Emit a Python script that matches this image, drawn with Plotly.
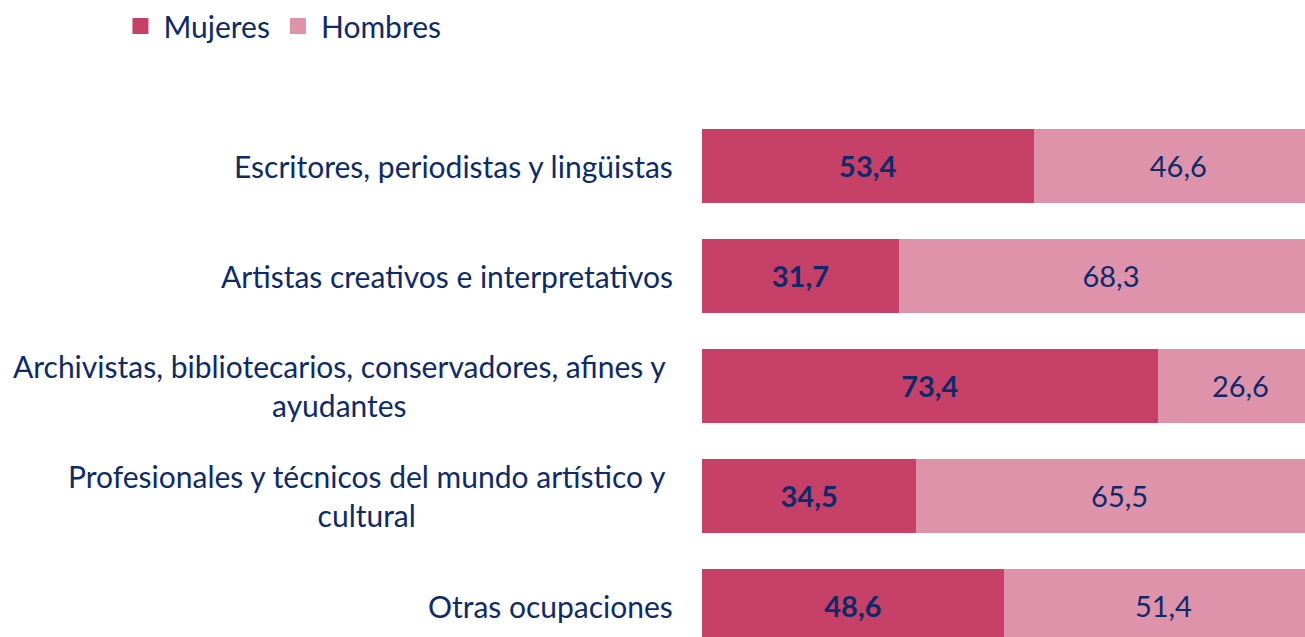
import plotly.graph_objects as go

categories = [
    "Escritores, periodistas y lingüistas",
    "Artistas creativos e interpretativos",
    "Archivistas, bibliotecarios, conservadores, afines y<br>ayudantes",
    "Profesionales y técnicos del mundo artístico y<br>cultural",
    "Otras ocupaciones",
]
series_names = ["Mujeres", "Hombres"]
mujeres = [53.4, 31.7, 73.4, 34.5, 48.6]
hombres = [46.6, 68.3, 26.6, 65.5, 51.4]

C_M = "#C64068"
C_H = "#DF93AA"
TXT = "#0D2A6B"
FONT = "Lato"
FS = 29
FL = 30

fig = go.Figure()
fig.add_trace(go.Bar(
    y=categories, x=mujeres, orientation="h", name=series_names[0],
    marker=dict(color=C_M, line=dict(width=0)), showlegend=False,
    texttemplate="<b>%{x:.1f}</b>", textposition="inside", insidetextanchor="middle",
    textfont=dict(color=TXT, size=FS, family=FONT),
))
fig.add_trace(go.Bar(
    y=categories, x=hombres, orientation="h", name=series_names[1],
    marker=dict(color=C_H, line=dict(width=0)), showlegend=False,
    texttemplate="%{x:.1f}", textposition="inside", insidetextanchor="middle",
    textfont=dict(color=TXT, size=FS, family=FONT),
))
# legend entries with larger square swatches
for nm, col in zip(series_names, [C_M, C_H]):
    fig.add_trace(go.Scatter(
        x=[None], y=[None], mode="markers", name=nm,
        marker=dict(symbol="square", size=19, color=col), showlegend=True,
    ))

for i, c in enumerate(categories):
    fig.add_annotation(
        xref="paper", yref="y", x=0, y=c, text=c, showarrow=False,
        xanchor="right", yanchor="middle", align="center",
        xshift=-27 if "<br>" not in c else -34,
        font=dict(color=TXT, size=FL, family=FONT),
    )

fig.update_layout(
    width=1305, height=637,
    barmode="stack", bargap=0.327,
    separators=",.",
    margin=dict(l=702, r=0, t=111, b=0),
    plot_bgcolor="white", paper_bgcolor="white",
    font=dict(family=FONT, color=TXT, size=FS),
    showlegend=True,
    legend=dict(orientation="h", xref="container", yref="container",
                x=0.09, y=1.0, xanchor="left", yanchor="top",
                font=dict(size=FL, color=TXT, family=FONT),
                itemsizing="trace", itemwidth=36,
                traceorder="normal"),
    xaxis=dict(range=[0, 97.1], visible=False, fixedrange=True),
    yaxis=dict(categoryorder="array", categoryarray=categories,
               range=[4.282, -0.5], showticklabels=False, showgrid=False,
               zeroline=False, fixedrange=True),
)

fig.write_html("out.html",
               config={"displayModeBar": False},
               post_script="document.body.style.margin='0';document.body.style.overflow='hidden';")
